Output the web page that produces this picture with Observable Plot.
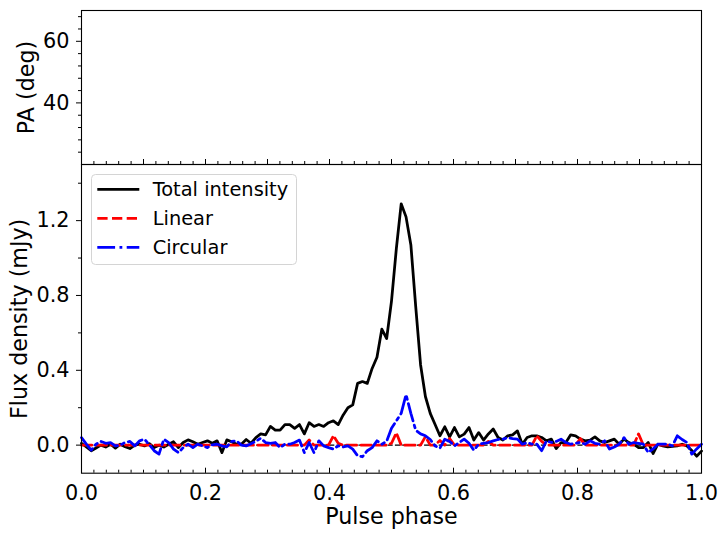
<!DOCTYPE html>
<html>
<head>
<meta charset="utf-8">
<script src="https://cdn.jsdelivr.net/npm/d3@7"></script>
<script src="https://cdn.jsdelivr.net/npm/@observablehq/plot@0.6"></script>
<style>
  body { margin: 0; background: #fff; }
  #wrap { position: relative; width: 728px; height: 537px; font-family: "DejaVu Sans"; background: #fff; }
  #wrap > svg { display: block; }
  #legend { position: absolute; left: 91px; top: 174px; }
</style>
</head>
<body>
<div id="wrap"></div>
<script>
// ---- data (128 bins over one pulse period, phase = bin / 128) ----
const nBins = 128;
const total = [
  0.01, -0.01, -0.03, -0.015, 0.0, -0.01, 0.005, -0.016, 0.005, -0.008,
  -0.018, 0.0, 0.005, -0.004, 0.008, -0.013, 0.0, -0.01, 0.005, 0.018,
  -0.013, 0.014, 0.028, 0.018, 0.005, 0.014, 0.023, 0.01, 0.023, -0.04,
  0.028, 0.018, 0.005, 0.005, 0.03, 0.01, 0.04, 0.06, 0.055, 0.10,
  0.08, 0.08, 0.11, 0.11, 0.09, 0.11, 0.06, 0.12, 0.10, 0.11,
  0.10, 0.12, 0.13, 0.11, 0.16, 0.20, 0.215, 0.33, 0.34, 0.33,
  0.41, 0.47, 0.62, 0.57, 0.77, 1.05, 1.29, 1.22, 1.07, 0.74,
  0.43, 0.26, 0.17, 0.11, 0.05, 0.098, 0.044, 0.094, 0.044, 0.059,
  0.094, 0.027, 0.067, 0.027, 0.06, 0.086, 0.041, 0.027, 0.05, 0.055,
  0.076, 0.005, 0.041, 0.05, 0.05, 0.041, 0.023, 0.032, -0.018, 0.014,
  0.014, 0.055, 0.05, 0.032, 0.023, 0.027, 0.044, 0.023, 0.014, 0.023,
  0.032, 0.005, 0.032, 0.014, 0.005, -0.013, -0.013, 0.014, -0.045, 0.005,
  -0.004, -0.009, -0.006, -0.004, 0.005, -0.004, -0.029, -0.059, -0.032
];
const linear = [
  0, 0, 0, 0, 0, 0, 0, 0, 0, 0,
  0, 0, 0, 0, 0, 0, 0, 0, 0, 0,
  0, 0, 0, 0, 0, 0, 0, 0, 0, 0,
  0, 0, 0, 0, 0, 0, 0, 0, 0, 0,
  0, 0, 0, 0, 0, 0, 0, 0.027, 0, 0,
  0, 0, 0.05, 0.01, 0, 0, 0, 0, 0, 0,
  0, 0, 0, 0, 0.01, 0.065, 0, 0, 0, 0,
  0, 0.045, 0, 0, 0.025, 0, 0.035, 0, 0, 0,
  0, 0, 0, 0, 0.02, 0, 0, 0, 0, 0,
  0, 0, 0, 0, 0.05, 0.02, 0, 0, 0, 0,
  0, 0, 0, 0.035, 0, 0, 0, 0, 0, 0,
  0, 0, 0, 0, 0, 0.06, 0, 0, 0, 0,
  0, 0, 0, 0, 0, 0, 0, 0, 0
];
const circular = [
  0.04, 0.005, -0.027, 0.005, 0.02, 0.01, 0.014, -0.004, 0.0, 0.014,
  0.02, -0.004, 0.023, 0.032, 0.002, -0.03, -0.048, 0.032, 0.014, -0.021,
  -0.04, -0.013, 0.005, -0.013, 0.005, -0.004, -0.013, 0.002, 0.005, -0.004,
  -0.009, 0.02, 0.023, 0.0, -0.004, 0.008, 0.02, 0.037, 0.014, 0.01,
  0.014, -0.013, 0.005, 0.005, 0.014, 0.027, -0.04, 0.014, -0.04, 0.023,
  -0.004, -0.013, -0.021, -0.004, -0.01, -0.004, -0.021, -0.057, -0.062, -0.03,
  -0.013, 0.023, 0.005, 0.02, 0.09, 0.13, 0.17, 0.27, 0.17, 0.08,
  0.06, 0.05, 0.03, -0.004, -0.016, 0.032, 0.02, -0.004, 0.014, 0.032,
  0.01, -0.027, 0.005, 0.01, 0.014, 0.023, 0.03, 0.032, 0.04, 0.035,
  0.032, 0.005, 0.014, 0.005, 0.005, -0.03, 0.023, 0.014, 0.02, 0.032,
  0.014, 0.005, 0.01, 0.014, 0.005, 0.023, 0.01, 0.005, 0.023, -0.021,
  -0.01, 0.005, 0.04, 0.005, 0.014, 0.01, 0.005, -0.04, -0.02, 0.005,
  0.005, 0.005, -0.004, 0.05, 0.03, 0.014, -0.048, -0.02, 0.005
];

// ---- ticks / labels ----
const xMajor = [0, 0.2, 0.4, 0.6, 0.8, 1.0];
const xTopMajor = [0, 0.1, 0.2, 0.3, 0.4, 0.5, 0.6, 0.7, 0.8, 0.9, 1.0];
const xMinor = d3.range(0, 51).map(i => i / 50);
const fluxMajor = [0, 0.4, 0.8, 1.2];
const fluxMinor = [0.2, 0.6, 1.0, 1.4];
const paMajor = [40, 60];
const paMinor = [24, 28, 32, 36, 44, 48, 52, 56, 64, 68];
const fluxDomain = [-0.15, 1.5];
const paDomain = [20, 70];

const seriesNames = ["Total intensity", "Linear", "Circular"];
const seriesColors = ["black", "red", "blue"];
const seriesDash = [null, "10.3,4.4", "17.8,4.4,2.8,4.4"];

const rows = total.map((t, i) => ({
  phase: i / nBins, total: t, linear: linear[i], circular: circular[i]
}));

const TICK_FS = 20.8, LABEL_FS = 22.2, LEG_FS = 19.4, LW = 2.78;
const baseStyle = {fontFamily: "DejaVu Sans", fontSize: TICK_FS + "px", color: "black", background: "transparent", overflow: "visible"};

const topPlot = Plot.plot({
  width: 728, height: 164,
  marginTop: 10, marginBottom: 0, marginLeft: 81, marginRight: 27,
  style: baseStyle,
  x: {domain: [0, 1]},
  y: {domain: paDomain},
  marks: [
    Plot.frame({stroke: "black", strokeWidth: 1.1}),
    Plot.axisY(paMajor, {anchor: "left", tickSize: 5, tickPadding: 7, tickFormat: d => String(d), fontSize: TICK_FS, label: null}),
    Plot.axisY(paMinor, {anchor: "left", tickSize: 3, fill: "none", label: null}),
    Plot.axisY([], {anchor: "left", tickSize: 0, label: "PA (deg)", labelAnchor: "center", labelArrow: "none", labelOffset: 63, fontSize: LABEL_FS}),
    Plot.axisX(xTopMajor, {anchor: "bottom", tickSize: -5, fill: "none", label: null}),
    Plot.axisX(xMinor, {anchor: "bottom", tickSize: -3, fill: "none", label: null})
  ]
});

const botPlot = Plot.plot({
  width: 728, height: 373,
  marginTop: 0, marginBottom: 64.3, marginLeft: 81, marginRight: 27,
  style: baseStyle,
  x: {domain: [0, 1]},
  y: {domain: fluxDomain},
  marks: [
    Plot.ruleY([0], {stroke: "black", strokeWidth: 1.4, strokeDasharray: "5.1,2.2"}),
    Plot.line(rows, {x: "phase", y: "total", stroke: seriesColors[0], strokeWidth: LW, strokeLinejoin: "round"}),
    Plot.line(rows, {x: "phase", y: "linear", stroke: seriesColors[1], strokeWidth: LW, strokeDasharray: seriesDash[1], strokeLinejoin: "round"}),
    Plot.line(rows, {x: "phase", y: "circular", stroke: seriesColors[2], strokeWidth: LW, strokeDasharray: seriesDash[2], strokeLinejoin: "round"}),
    Plot.frame({stroke: "black", strokeWidth: 1.1}),
    Plot.axisY(fluxMajor, {anchor: "left", tickSize: 5, tickPadding: 7, tickFormat: d => d.toFixed(1), fontSize: TICK_FS, label: null}),
    Plot.axisY(fluxMinor, {anchor: "left", tickSize: 3, fill: "none", label: null}),
    Plot.axisY([], {anchor: "left", tickSize: 0, label: "Flux density (mJy)", labelAnchor: "center", labelArrow: "none", labelOffset: 70.5, fontSize: LABEL_FS}),
    Plot.axisX(xMajor, {anchor: "bottom", tickSize: -5, fill: "none", label: null}),
    Plot.axisX(xMinor, {anchor: "bottom", tickSize: -3, fill: "none", label: null}),
    Plot.axisX(xMajor, {anchor: "bottom", tickSize: 0, tickPadding: 11.6, tickFormat: d => d.toFixed(1), fontSize: TICK_FS, label: null}),
    Plot.axisX([], {anchor: "bottom", tickSize: 0, label: "Pulse phase", labelAnchor: "center", labelArrow: "none", labelOffset: 51, fontSize: LABEL_FS})
  ]
});

const wrap = document.getElementById("wrap");
wrap.appendChild(topPlot);
wrap.appendChild(botPlot);

// ---- legend (inside the lower panel, upper left) ----
const legW = 206, legH = 91;
const leg = d3.select(wrap).append("svg")
  .attr("id", "legend").attr("width", legW).attr("height", legH)
  .style("font-family", "DejaVu Sans");
leg.append("rect").attr("x", 0.5).attr("y", 0.5).attr("width", legW - 1).attr("height", legH - 1)
  .attr("rx", 4).attr("fill", "rgba(255,255,255,0.8)").attr("stroke", "#d4d4d4").attr("stroke-width", 1);
seriesNames.forEach((name, i) => {
  const cy = 15.3 + i * 29;
  leg.append("line").attr("x1", 6.3).attr("x2", 48.3).attr("y1", cy).attr("y2", cy)
    .attr("stroke", seriesColors[i]).attr("stroke-width", LW)
    .attr("stroke-dasharray", seriesDash[i]);
  leg.append("text").attr("x", 61.7).attr("y", cy).attr("dy", "0.35em")
    .attr("font-size", LEG_FS).attr("fill", "black").text(name);
});
</script>
</body>
</html>
